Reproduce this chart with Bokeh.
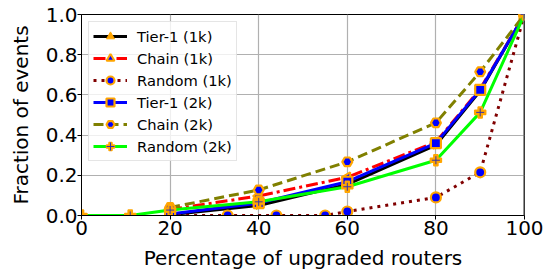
from bokeh.plotting import figure
from bokeh.models import Range1d, FixedTicker, Legend, LegendItem, Span, PrintfTickFormatter
from bokeh.embed import file_html
from bokeh.resources import INLINE

# ---- data ----
x_ticks = [0, 20, 40, 60, 80, 100]
y_ticks = [0.0, 0.2, 0.4, 0.6, 0.8, 1.0]

tier1_1k_x = [20, 40, 60, 80, 90, 100]
tier1_1k_y = [0.004, 0.05, 0.155, 0.35, 0.62, 1.0]
chain_1k_x = [20, 40, 60, 80, 90, 100]
chain_1k_y = [0.03, 0.097, 0.19, 0.365, 0.63, 1.0]
random_1k_x = [20, 33, 44, 55, 60, 80, 90, 100]
random_1k_y = [0.0, 0.0, 0.0, 0.0, 0.02, 0.09, 0.215, 1.0]
tier1_2k_x = [20, 40, 60, 80, 90, 100]
tier1_2k_y = [0.008, 0.062, 0.168, 0.36, 0.625, 1.0]
chain_2k_x = [20, 40, 60, 80, 90, 100]
chain_2k_y = [0.04, 0.127, 0.267, 0.461, 0.715, 1.0]
random_2k_x = [0, 11, 20, 40, 60, 80, 90, 100]
random_2k_y = [0.0, 0.0, 0.027, 0.068, 0.143, 0.275, 0.513, 1.0]

labels = ["Tier-1 (1k)", "Chain (1k)", "Random (1k)",
          "Tier-1 (2k)", "Chain (2k)", "Random (2k)"]

FONT = "DejaVu Sans"
ORANGE = "orange"

p = figure(width=544, height=272, output_backend="svg", toolbar_location=None,
           x_range=Range1d(0, 100), y_range=Range1d(0, 1.0),
           min_border_left=81, min_border_right=20, min_border_top=14,
           min_border_bottom=55)

p.background_fill_color = "white"
p.border_fill_color = "white"
p.outline_line_color = "black"
p.outline_line_width = 1

for ax in (p.xaxis[0], p.yaxis[0]):
    ax.major_label_text_font = FONT
    ax.major_label_text_font_size = "20px"
    ax.major_label_text_color = "black"
    ax.axis_label_text_font = FONT
    ax.axis_label_text_font_size = "20px"
    ax.axis_label_text_font_style = "normal"
    ax.axis_label_text_color = "black"
    ax.major_tick_out = 4
    ax.major_tick_in = 0
    ax.minor_tick_out = 0
    ax.minor_tick_in = 0
    ax.axis_line_color = "black"
    ax.major_tick_line_color = "black"

p.xaxis.ticker = FixedTicker(ticks=x_ticks)
p.yaxis.ticker = FixedTicker(ticks=y_ticks)
p.yaxis.formatter = PrintfTickFormatter(format="%.1f")
p.xaxis.axis_label = "Percentage of upgraded routers"
p.yaxis.axis_label = "Fraction of events"
p.xaxis.major_label_standoff = 1
p.xaxis.axis_label_standoff = 8
p.yaxis.major_label_standoff = 0
p.yaxis.axis_label_standoff = 10

p.xgrid.ticker = FixedTicker(ticks=x_ticks)
p.ygrid.ticker = FixedTicker(ticks=y_ticks)
for g in (p.xgrid[0], p.ygrid[0]):
    g.grid_line_color = "#b0b0b0"
    g.grid_line_width = 1.2

items = []

# Tier-1 (1k)
l1 = p.line(tier1_1k_x, tier1_1k_y, line_color="black", line_width=3)
m1 = p.scatter(tier1_1k_x, tier1_1k_y, marker="triangle", angle=-1.5708, size=8,
               fill_color=ORANGE, line_color=ORANGE, line_width=1)
items.append(LegendItem(label=labels[0], renderers=[l1, m1]))

# Chain (1k)
l2 = p.line(chain_1k_x, chain_1k_y, line_color="red", line_width=3, line_dash="12 4 3 4")
m2 = p.scatter(chain_1k_x, chain_1k_y, marker="triangle", angle=1.5708, size=10,
               fill_color="blue", line_color=ORANGE, line_width=2)
items.append(LegendItem(label=labels[1], renderers=[l2, m2]))

# Random (1k)
l3 = p.line(random_1k_x, random_1k_y, line_color="#800000", line_width=3, line_dash="3 5")
m3 = p.scatter(random_1k_x, random_1k_y, marker="circle", size=10,
               fill_color="blue", line_color=ORANGE, line_width=2.2)
items.append(LegendItem(label=labels[2], renderers=[l3, m3]))

# Tier-1 (2k)
l4 = p.line(tier1_2k_x, tier1_2k_y, line_color="blue", line_width=3)
m4 = p.scatter(tier1_2k_x, tier1_2k_y, marker="square", size=10,
               fill_color="blue", line_color=ORANGE, line_width=2.2)
items.append(LegendItem(label=labels[3], renderers=[l4, m4]))

# Chain (2k)
l5 = p.line(chain_2k_x, chain_2k_y, line_color="#808000", line_width=3, line_dash="10 5")
m5 = p.scatter(chain_2k_x, chain_2k_y, marker="hex", size=10,
               fill_color="blue", line_color=ORANGE, line_width=2.2)
items.append(LegendItem(label=labels[4], renderers=[l5, m5]))

# Random (2k)
l6 = p.line(random_2k_x, random_2k_y, line_color="#00ff00", line_width=3)
m6 = p.scatter(random_2k_x, random_2k_y, marker="plus", size=11,
               fill_color=ORANGE, line_color=ORANGE, line_width=1.5)
m6b = p.scatter(random_2k_x, random_2k_y, marker="cross", size=8,
                line_color="#3333aa", line_width=1)
items.append(LegendItem(label=labels[5], renderers=[l6, m6, m6b]))

# right spine (gray, as in the reference)
p.add_layout(Span(location=100, dimension="height", line_color="#707070", line_width=2.5))

legend = Legend(items=items, location="top_left")
legend.label_text_font = FONT
legend.label_text_font_size = "14.7px"
legend.label_text_color = "black"
legend.glyph_width = 34
legend.glyph_height = 20
legend.label_height = 20
legend.label_standoff = 10
legend.spacing = 2
legend.padding = 4
legend.margin = 7
legend.border_line_color = "#cccccc"
legend.border_line_width = 1
legend.background_fill_color = "white"
legend.background_fill_alpha = 0.8
p.add_layout(legend)

open("out.html", "w").write(file_html(p, INLINE))
